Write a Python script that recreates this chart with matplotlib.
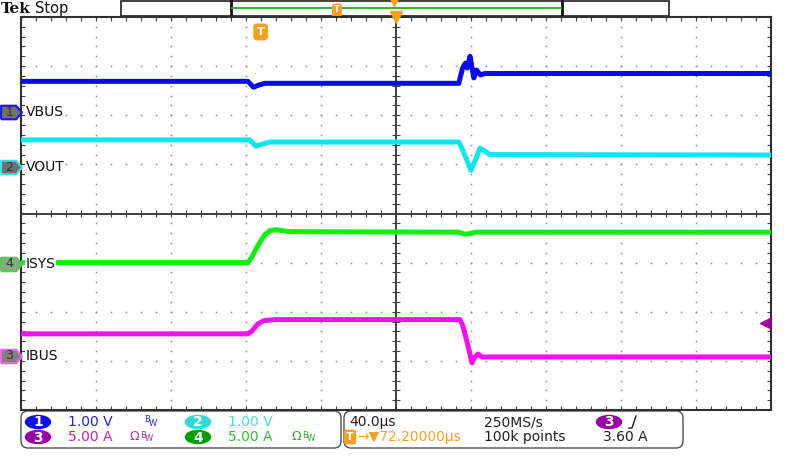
import numpy as np
import matplotlib
matplotlib.use("Agg")
import matplotlib.pyplot as plt
from matplotlib.patches import Rectangle, FancyBboxPatch, Ellipse
from matplotlib.path import Path

plt.rcParams["font.family"] = ["DejaVu Sans"]

# time in us relative to screen centre (40 us/div), level in screen divisions
vbus_t = [-200, -79, -76, -73.5, -70, 33.5, 35.5, 37, 38, 39.5, 41.5, 43, 45, 47.5, 200]
vbus_y = [2.69, 2.69, 2.57, 2.61, 2.65, 2.65, 2.96, 3.06, 2.96, 3.20, 2.76, 2.92, 2.82, 2.85, 2.85]

vout_t = [-200, -78, -74.7, -71.5, -67.2, 33.6, 36.8, 40, 42.7, 44.8, 47.5, 50.1, 200]
vout_y = [1.50, 1.50, 1.37, 1.41, 1.455, 1.455, 1.18, 0.88, 1.12, 1.33, 1.265, 1.20, 1.19]

isys_t = [-200, -78.9, -76.8, -73.6, -69.9, -67.2, -64, -56.5, 33.6, 36.3, 39.5, 42.7, 200]
isys_y = [-1.0, -1.0, -0.88, -0.65, -0.43, -0.35, -0.33, -0.37, -0.38, -0.42, -0.41, -0.38, -0.38]

ibus_t = [-200, -78.9, -76.8, -73.6, -70.4, -64.5, 34.1, 35.7, 38.4, 40.5, 42.1, 43.7, 45.9, 200]
ibus_y = [-2.45, -2.45, -2.39, -2.245, -2.18, -2.16, -2.16, -2.29, -2.69, -3.04, -2.92, -2.86, -2.92, -2.92]

names = ["VBUS", "VOUT", "ISYS", "IBUS"]
numbers = ["1", "2", "4", "3"]
ref_levels = [2.06, 0.94, -1.02, -2.90]
colors = ["#0a0af0", "#10e6f0", "#10f010", "#f010f0"]
edge_colors = ["#1818e0", "#40e0e0", "#60c060", "#e070e0"]
fill_colors = ["#707070", "#707070", "#80b080", "#808080"]

trig_time = -72.2
trig_level = -2.22

fig = plt.figure(figsize=(8, 4.7), dpi=100)
ov = fig.add_axes([0, 0, 1, 1])
ov.set_xlim(0, 800)
ov.set_ylim(470, 0)
ov.axis("off")

ax = fig.add_axes([21 / 800, 60 / 470, 750 / 800, 393 / 470])
ax.set_zorder(2)
ax.set_xlim(-200, 200)
ax.set_ylim(-4, 4)
ax.set_xticks([])
ax.set_yticks([])
for s in ax.spines.values():
    s.set_color("#303030")
    s.set_linewidth(1.5)

# graticule dots
gc = "#8a8a8a"
ys = np.arange(-4, 4.01, 0.2)
xs = np.arange(-200, 200.1, 8)
for gx in range(-160, 161, 40):
    if gx != 0:
        ax.plot(np.full(len(ys), gx), ys, ls="none", marker="s", ms=1.1, color=gc, mew=0)
for gy in range(-3, 4):
    if gy != 0:
        ax.plot(xs, np.full(len(xs), gy), ls="none", marker="s", ms=1.1, color=gc, mew=0)

# centre lines with ticks
ax.axvline(0, color="#303030", lw=1.3)
ax.axhline(0, color="#303030", lw=1.3)
ax.vlines(xs, -0.07, 0.07, color="#404040", lw=0.8)
ax.hlines(ys, -2.2, 2.2, color="#404040", lw=0.8)
# edge ticks
ax.vlines(xs, 3.92, 4, color="#404040", lw=0.8)
ax.vlines(xs, -4, -3.92, color="#404040", lw=0.8)
ax.hlines(ys, -200, -197.8, color="#404040", lw=0.8)
ax.hlines(ys, 197.8, 200, color="#404040", lw=0.8)

# traces
for t, y, c in zip([vbus_t, vout_t, isys_t, ibus_t], [vbus_y, vout_y, isys_y, ibus_y], colors):
    ax.plot(t, y, color=c, lw=3.6, solid_joinstyle="round", zorder=3)

# channel reference markers and labels
ytr = ax.get_yaxis_transform()
tag = Path([(-1, -0.65), (0.45, -0.65), (1, 0), (0.45, 0.65), (-1, 0.65), (-1, -0.65)])
for name, num, lvl, ec, fc in zip(names, numbers, ref_levels, edge_colors, fill_colors):
    ax.plot([-0.0135], [lvl], marker=tag, ms=15, mfc=fc, mec=ec, mew=1.5,
            transform=ytr, clip_on=False, zorder=6)
    ax.text(-0.0155, lvl, num, transform=ytr, ha="center", va="center",
            fontsize=9, color="#303030", zorder=7)
    ax.text(0.006, lvl, name, transform=ytr, ha="left", va="center", fontsize=10,
            color="#101010", zorder=5, bbox=dict(fc="white", ec="none", pad=0.5))

# trigger level arrow on right edge
ax.plot([0.992], [trig_level], marker="<", ms=7, color="#a000a0", transform=ytr,
        clip_on=False, zorder=6)
ax.plot([0.992, 1.0], [trig_level, trig_level], color="#a000a0", lw=1.2, transform=ytr,
        clip_on=False, zorder=6)

# trigger position marker "T"
xtr = ax.get_xaxis_transform()
ax.text(trig_time, 0.962, "T", transform=xtr, ha="center", va="center", fontsize=8,
        fontweight="bold", color="white", zorder=7,
        bbox=dict(boxstyle="round,pad=0.25", fc="#f5a020", ec="#f5a020"))
ax.plot([0], [1.0], marker="v", ms=8, color="#f5a020", transform=xtr, clip_on=False, zorder=7)

# top bar
ov.text(1, 9, "Tek", fontsize=11, fontweight="bold", family="DejaVu Serif",
        ha="left", va="center", color="#101010")
ov.text(35, 9, "Stop", fontsize=10.5, ha="left", va="center", color="#101010")
ov.add_patch(Rectangle((121, 1), 548, 15, fc="white", ec="#202020", lw=1.2))
ov.plot([231, 231], [1, 16], color="#101010", lw=2)
ov.plot([562, 562], [1, 16], color="#101010", lw=2)
ov.plot([232, 561], [8, 8], color="#20b020", lw=1.3)
ov.text(337, 10, "T", fontsize=6, fontweight="bold", color="white", ha="center", va="center",
        bbox=dict(boxstyle="round,pad=0.15", fc="#f5a020", ec="#f5a020"))
ov.plot([394], [2], marker="v", ms=6, color="#f5a020")

# bottom readout boxes
ov.add_patch(FancyBboxPatch((21, 411), 320, 37, boxstyle="round,pad=0,rounding_size=7",
                            fc="white", ec="#505050", lw=1))
ov.add_patch(FancyBboxPatch((344, 411), 339, 37, boxstyle="round,pad=0,rounding_size=7",
                            fc="white", ec="#505050", lw=1))

badges = [("1", 38, 422, "#1010e8"), ("2", 198, 422, "#30d8d8"),
          ("3", 38, 437, "#9a00a8"), ("4", 198, 437, "#00a000"),
          ("3", 609, 422, "#9a00a8")]
for num, bx, by, bc in badges:
    ov.add_patch(Ellipse((bx, by), 25, 13, color=bc))
    ov.text(bx, by + 0.5, num, fontsize=10, color="white", fontweight="bold",
            ha="center", va="center")

fs = 10
ov.text(68, 422, "1.00 V", fontsize=fs, color="#2020f0", va="center")
ov.text(228, 422, "1.00 V", fontsize=fs, color="#40e0e0", va="center")
ov.text(68, 437, "5.00 A", fontsize=fs, color="#c020c0", va="center")
ov.text(228, 437, "5.00 A", fontsize=fs, color="#30c030", va="center")


def bw(x, y, c, omega=False):
    if omega:
        ov.text(x, y, "Ω", fontsize=9, color=c, va="center")
        x += 10
    ov.text(x, y - 2, "B", fontsize=6, color=c, va="center")
    ov.text(x + 4.5, y + 1.5, "W", fontsize=6, color=c, va="center")


bw(144, 422, "#2020f0")
bw(130, 437, "#b030c0", omega=True)
bw(292, 437, "#30b030", omega=True)

ov.text(349, 422, "40.0\u00b5s", fontsize=fs, color="#202020", va="center")
ov.text(484, 422, "250MS/s", fontsize=fs, color="#202020", va="center")
ov.plot([629, 632, 636], [428, 428, 416], color="#202020", lw=1)
ov.text(350, 437, "T", fontsize=8, fontweight="bold", color="white", ha="center", va="center",
        bbox=dict(boxstyle="round,pad=0.15", fc="#f5a020", ec="#f5a020"))
ov.text(357, 437, "\u2192\u25bc72.20000\u00b5s", fontsize=fs, color="#f5a020", va="center")
ov.text(484, 437, "100k points", fontsize=fs, color="#202020", va="center")
ov.text(603, 437, "3.60 A", fontsize=fs, color="#202020", va="center")

fig.savefig("out.png", dpi=100)
